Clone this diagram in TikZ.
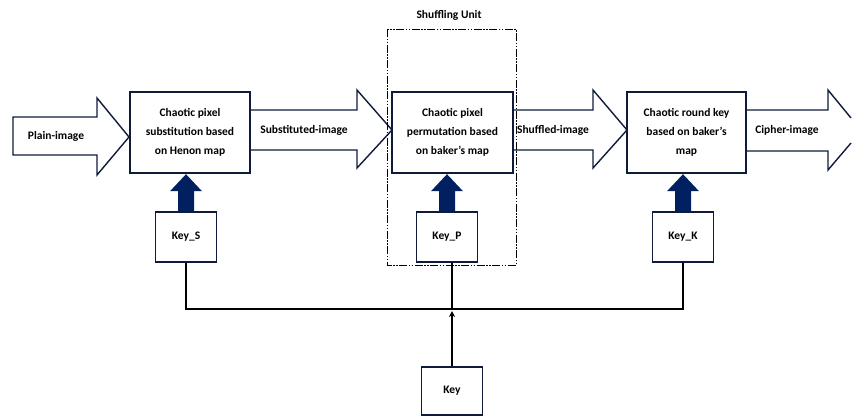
\documentclass[tikz,border=0pt]{standalone}
\usepackage{fontspec}
\setmainfont{Carlito}
\usetikzlibrary{arrows.meta,calc}
\definecolor{navy}{HTML}{0F1B3A}
\definecolor{fillnavy}{HTML}{002060}
\begin{document}
\begin{tikzpicture}[x=1pt,y=-1pt,
  every node/.style={font=\bfseries\fontsize{11.5}{19}\selectfont},
  procbox/.style={draw=navy,line width=1.6pt,fill=white,align=center,inner sep=0pt},
  keybox/.style={draw=navy,line width=1.6pt,fill=white,minimum width=61pt,minimum height=50pt,inner sep=0pt},
  bigarrow/.style={draw=navy,line width=1.4pt,fill=white,line join=miter},
  thickarrow/.style={fill=fillnavy,draw=none},
  wire/.style={draw=black,line width=1.8pt},
  unitbox/.style={draw=black,line width=1pt,dash pattern=on 8pt off 1.5pt on 1.5pt off 1.5pt on 1.5pt off 1.5pt}]
\useasboundingbox (0,0) rectangle (852,416);
% big arrows
\draw[bigarrow] (13,117) -- (97,117) -- (97,98) -- (129,137) -- (97,175) -- (97,155) -- (13,155) -- cycle;
\draw[bigarrow] (250,110) -- (357,110) -- (357,90) -- (392,130) -- (357,168) -- (357,150) -- (250,150);
\draw[bigarrow] (513,110) -- (593,110) -- (593,90) -- (627,130) -- (593,168) -- (593,150) -- (513,150);
\draw[bigarrow] (746,110) -- (828,110) -- (828,90) -- (851,118) (851,143) -- (828,170) -- (828,151) -- (746,151);
\node (tplain) at (56,136) {Plain-image};
\node (tsub) at (304,130) {Substituted-image};
\node (tshuf) at (553,130) {Shuffled-image};
\node (tciph) at (787,130) {Cipher-image};
% shuffling unit
\draw[unitbox] (387,29) rectangle (516,265);
\node (su) at (449,15) {Shuffling Unit};
% process boxes
\node[procbox,minimum width=120pt,minimum height=81pt] (b1) at (190,132.5) {Chaotic pixel\\substitution based\\on Henon map};
\node[procbox,minimum width=121pt,minimum height=81pt] (b2) at (452.5,132.5) {Chaotic pixel\\permutation based\\on baker’s map};
\node[procbox,minimum width=119pt,minimum height=81pt] (b3) at (686.5,132.5) {Chaotic round key\\based on baker’s\\map};
% key boxes
\node[keybox] (ks) at (186,237) {Key\_S};
\node[keybox] (kp) at (447,237) {Key\_P};
\node[keybox] (kk) at (683,237) {Key\_K};
\node[keybox,minimum height=48pt] (key) at (452,391) {Key};
% thick arrows key -> box
\foreach \k/\b in {ks/b1,kp/b2,kk/b3}{
  \path[thickarrow] ($(\k.north)+(-8,0)$) -- ($(\k.north)+(-8,-20)$) -- ($(\k.north)+(-16,-20)$)
     -- ($(\k.north)+(0,-37)$) -- ($(\k.north)+(16,-20)$) -- ($(\k.north)+(8,-20)$) -- ($(\k.north)+(8,0)$) -- cycle;
}
% wires
\coordinate (j) at (452,309);
\draw[wire] (ks.south) -- (ks.south |- j) -- (kk.south |- j) -- (kk.south);
\draw[wire] (j |- kp.south) -- (j);
\draw[wire,-{Stealth[length=6pt,width=6pt]}] (key.north) -- ($(j)+(0,2)$);
\end{tikzpicture}
\end{document}
